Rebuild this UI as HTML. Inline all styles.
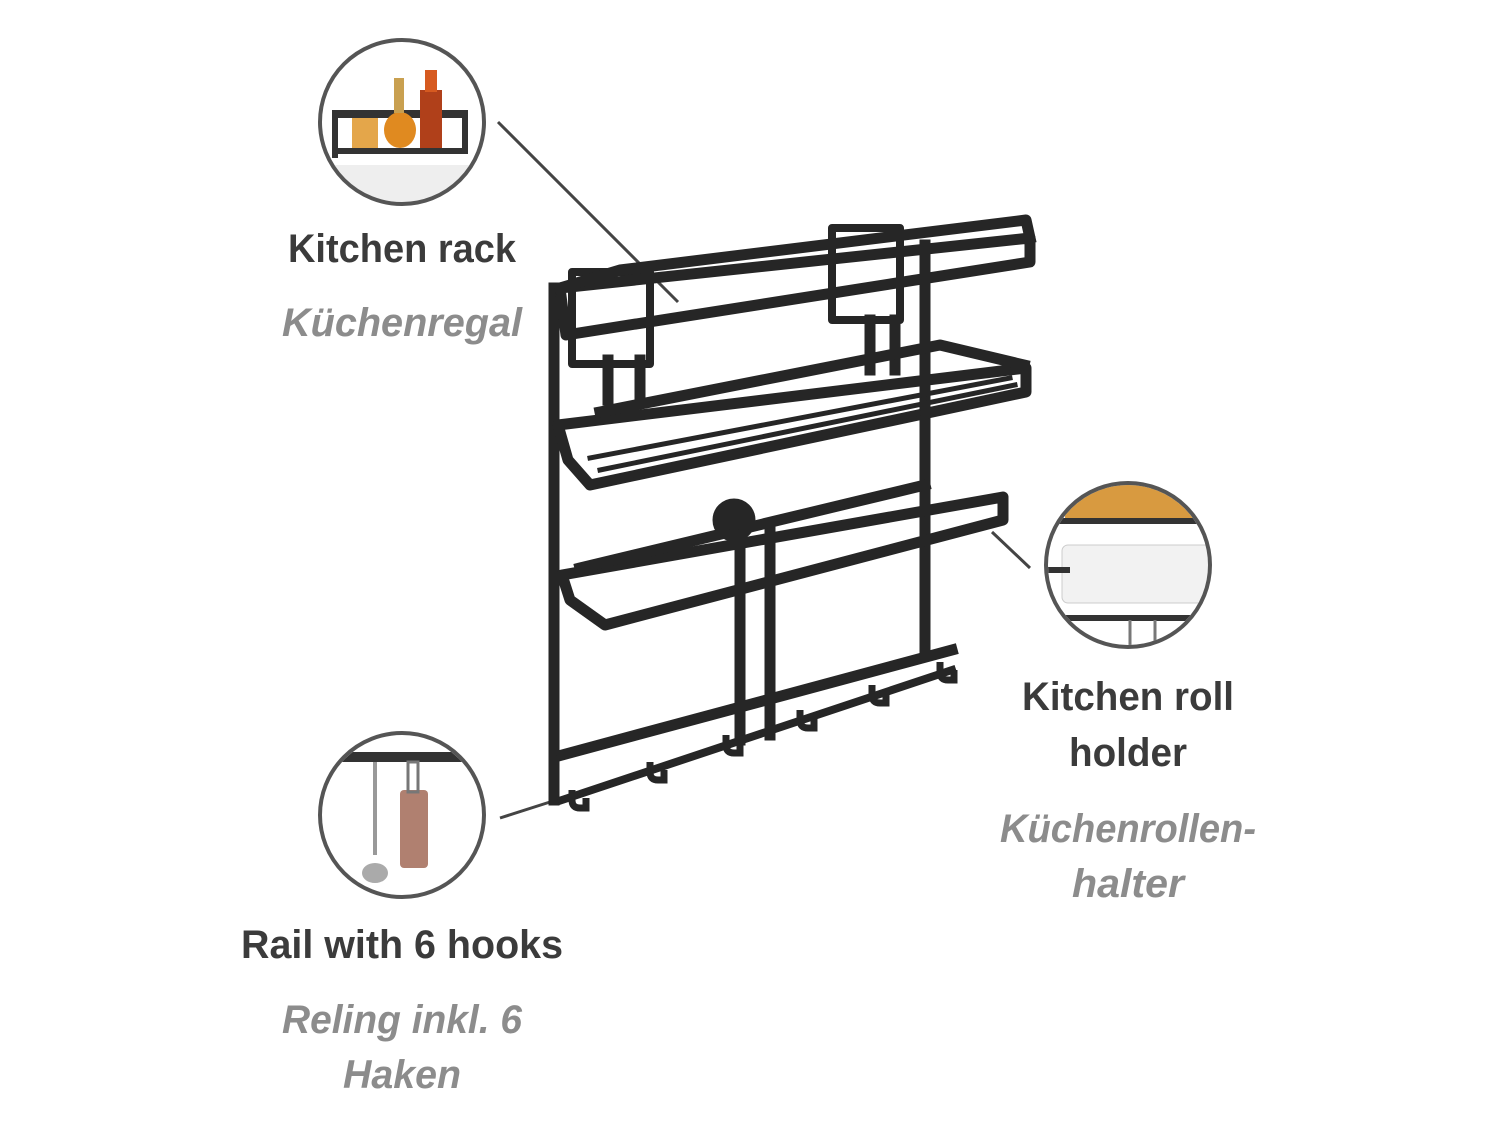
<!DOCTYPE html>
<html><head><meta charset="utf-8"><style>
html,body{margin:0;padding:0;background:#fff;}
svg{display:block;}
.b{font-family:"Liberation Sans",sans-serif;font-weight:bold;font-size:40px;fill:#3b3b3b;}
.i{font-family:"Liberation Sans",sans-serif;font-weight:bold;font-style:italic;font-size:40px;fill:#8c8c8c;}
</style></head><body>
<svg width="1500" height="1125" viewBox="0 0 1500 1125" xmlns="http://www.w3.org/2000/svg">
<defs>
<clipPath id="c1"><circle cx="402" cy="122" r="80"/></clipPath>
<clipPath id="c2"><circle cx="1128" cy="565" r="80"/></clipPath>
<clipPath id="c3"><circle cx="402" cy="815" r="80"/></clipPath>
</defs>
<rect width="1500" height="1125" fill="#fff"/>
<g stroke="#444" stroke-width="3">
<line x1="498" y1="122" x2="678" y2="302"/>
<line x1="992" y1="532" x2="1030" y2="568"/>
<line x1="500" y1="818" x2="550" y2="802"/>
</g>
<g stroke="#262626" stroke-width="11" fill="none" stroke-linejoin="round" stroke-linecap="square">
<line x1="554" y1="288" x2="554" y2="800"/>
<line x1="925" y1="245" x2="925" y2="655"/>
<line x1="740" y1="530" x2="740" y2="740"/>
<line x1="770" y1="530" x2="770" y2="735"/>
<rect x="572" y="272" width="78" height="92" fill="none" stroke-width="8"/>
<rect x="832" y="228" width="68" height="92" fill="none" stroke-width="8"/>
<line x1="608" y1="360" x2="608" y2="400"/>
<line x1="640" y1="360" x2="640" y2="400"/>
<line x1="870" y1="320" x2="870" y2="370"/>
<line x1="895" y1="320" x2="895" y2="370"/>
<polygon points="560,288 1030,238 1030,262 566,335"/>
<polyline points="560,288 620,270 1026,220 1030,238"/>
<polygon points="558,425 1026,368 1026,392 590,485 568,460"/>
<polyline points="600,412 940,345 1024,365"/>
<line x1="590" y1="458" x2="1010" y2="378" stroke-width="5"/>
<line x1="600" y1="470" x2="1015" y2="385" stroke-width="5"/>
<line x1="610" y1="480" x2="1018" y2="392" stroke-width="5"/>
<polygon points="562,575 1003,497 1003,520 605,625 570,600"/>
<polyline points="580,568 925,485"/>
<circle cx="734" cy="520" r="16" fill="#262626"/>
<line x1="562" y1="755" x2="952" y2="650"/>
<line x1="562" y1="800" x2="952" y2="670" stroke-width="8"/>
</g>
<g stroke="#262626" stroke-width="7" fill="none">
<path d="M572,790 v10 q0,8 8,8 h6 v-10"/>
<path d="M650,762 v10 q0,8 8,8 h6 v-10"/>
<path d="M726,735 v10 q0,8 8,8 h6 v-10"/>
<path d="M800,710 v10 q0,8 8,8 h6 v-10"/>
<path d="M872,685 v10 q0,8 8,8 h6 v-10"/>
<path d="M940,662 v10 q0,8 8,8 h6 v-10"/>
</g>
<g clip-path="url(#c1)">
<rect x="332" y="110" width="135" height="8" fill="#333"/>
<rect x="332" y="148" width="135" height="6" fill="#333"/>
<rect x="332" y="110" width="6" height="48" fill="#333"/>
<rect x="462" y="110" width="6" height="44" fill="#333"/>
<rect x="352" y="118" width="26" height="30" fill="#e4a64a"/>
<ellipse cx="400" cy="130" rx="16" ry="18" fill="#e08a20"/>
<rect x="394" y="78" width="10" height="35" fill="#c9a050"/>
<rect x="420" y="90" width="22" height="58" fill="#b0401a"/>
<rect x="425" y="70" width="12" height="22" fill="#d65a20"/>
<rect x="320" y="165" width="170" height="40" fill="#eee"/>
</g>
<circle cx="402" cy="122" r="82" fill="none" stroke="#555" stroke-width="4"/>
<g clip-path="url(#c2)">
<rect x="1065" y="482" width="130" height="36" fill="#d89a40"/>
<rect x="1040" y="518" width="180" height="6" fill="#333"/>
<rect x="1062" y="545" width="150" height="58" rx="6" fill="#f2f2f2" stroke="#ccc"/>
<rect x="1040" y="567" width="30" height="6" fill="#333"/>
<rect x="1040" y="615" width="180" height="6" fill="#333"/>
<line x1="1130" y1="620" x2="1130" y2="650" stroke="#777" stroke-width="3"/>
<line x1="1155" y1="620" x2="1155" y2="650" stroke="#777" stroke-width="3"/>
</g>
<circle cx="1128" cy="565" r="82" fill="none" stroke="#555" stroke-width="4"/>
<g clip-path="url(#c3)">
<rect x="320" y="752" width="170" height="10" fill="#333"/>
<line x1="375" y1="762" x2="375" y2="855" stroke="#999" stroke-width="4"/>
<ellipse cx="375" cy="873" rx="13" ry="10" fill="#aaa"/>
<rect x="400" y="790" width="28" height="78" rx="4" fill="#b08070"/>
<rect x="408" y="762" width="10" height="30" fill="none" stroke="#777" stroke-width="3"/>
</g>
<circle cx="402" cy="815" r="82" fill="none" stroke="#555" stroke-width="4"/>
<g text-anchor="middle">
<text class="b" x="402" y="262" textLength="228" lengthAdjust="spacingAndGlyphs">Kitchen rack</text>
<text class="i" x="402" y="336" textLength="240" lengthAdjust="spacingAndGlyphs">Küchenregal</text>
<text class="b" x="1128" y="710" textLength="212" lengthAdjust="spacingAndGlyphs">Kitchen roll</text>
<text class="b" x="1128" y="766" textLength="118" lengthAdjust="spacingAndGlyphs">holder</text>
<text class="i" x="1128" y="842" textLength="256" lengthAdjust="spacingAndGlyphs">Küchenrollen-</text>
<text class="i" x="1128" y="897" textLength="112" lengthAdjust="spacingAndGlyphs">halter</text>
<text class="b" x="402" y="958" textLength="322" lengthAdjust="spacingAndGlyphs">Rail with 6 hooks</text>
<text class="i" x="402" y="1033" textLength="240" lengthAdjust="spacingAndGlyphs">Reling inkl. 6</text>
<text class="i" x="402" y="1088" textLength="118" lengthAdjust="spacingAndGlyphs">Haken</text>
</g>
</svg>
</body></html>
